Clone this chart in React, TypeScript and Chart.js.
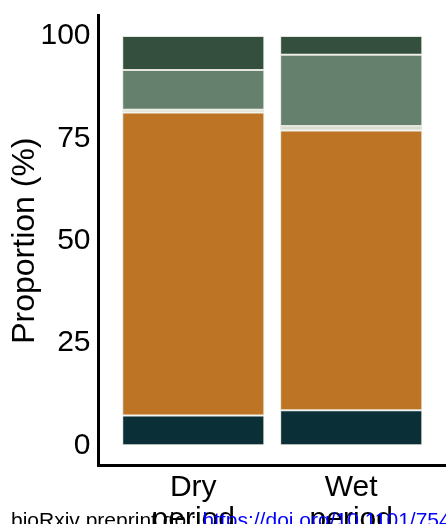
import React, { useEffect, useRef } from "react";
import { Chart, registerables } from "chart.js";

Chart.register(...registerables);

const categories = ["Dry\nperiod", "Wet\nperiod"];
const yTicks = [0, 25, 50, 75, 100];
const seriesNames = ["Group A", "Group B", "Group C", "Group D", "Group E"];
const seriesA = [7.3, 8.6];
const seriesB = [74.0, 68.3];
const seriesC = [0.7, 1.1];
const seriesD = [9.7, 17.4];
const seriesE = [8.3, 4.6];
const seriesColors = ["#0b2f37", "#bd7525", "#d9ddd0", "#66806e", "#344f3e"];
const footerBlack = "bioRxiv preprint doi: ";
const footerBlue = "https://doi.org/10.1101/754317; this version posted";

const FONT = "'Liberation Sans', Arial, sans-serif";

const footerPlugin = {
  id: "footer",
  afterDraw(chart: any) {
    const ctx = chart.ctx;
    ctx.save();
    ctx.font = `21px ${FONT}`;
    ctx.textBaseline = "alphabetic";
    ctx.textAlign = "left";
    ctx.fillStyle = "#000000";
    ctx.fillText(footerBlack, 11, 527);
    const w = ctx.measureText(footerBlack).width;
    ctx.fillStyle = "#0000ff";
    ctx.fillText(footerBlue, 11 + w, 527);
    ctx.restore();
  },
};

export default function App() {
  const ref = useRef<HTMLCanvasElement | null>(null);
  useEffect(() => {
    if (!ref.current) return;
    const all = [seriesA, seriesB, seriesC, seriesD, seriesE];
    const datasets = all.map((vals, i) => ({
      label: seriesNames[i],
      data: vals.map((v, j) => ({ x: j + 1, y: v })),
      backgroundColor: seriesColors[i],
      borderColor: "#e4e6dc",
      borderWidth: 1,
      borderSkipped: false as any,
      categoryPercentage: 0.9,
      barPercentage: 1,
    }));
    const chart = new Chart(ref.current, {
      type: "bar",
      data: { datasets },
      plugins: [footerPlugin],
      options: {
        animation: false,
        responsive: false,
        maintainAspectRatio: false,
        layout: { padding: { left: 0, right: 0, top: 15.5, bottom: 0 } },
        plugins: { legend: { display: false }, tooltip: { enabled: false } },
        scales: {
          x: {
            type: "linear",
            stacked: true,
            offset: false,
            min: 0.4,
            max: 2.6,
            afterBuildTicks: (s: any) => {
              s.ticks = categories.map((_, i) => ({ value: i + 1 }));
            },
            afterFit: (s: any) => {
              s.paddingLeft = 0;
              s.paddingRight = 0;
            },
            ticks: {
              autoSkip: false,
              maxRotation: 0,
              padding: 6,
              color: "#000000",
              font: { family: FONT, size: 30, lineHeight: 1.07 },
              callback: (v: any) => {
                const c = categories[Math.round(Number(v)) - 1];
                return c ? c.split("\n") : "";
              },
            },
            grid: { display: false, drawTicks: false, offset: false },
            border: { display: true, color: "#000000", width: 3 },
          },
          y: {
            type: "linear",
            stacked: true,
            min: -5,
            max: 105,
            afterBuildTicks: (s: any) => {
              s.ticks = yTicks.map((v) => ({ value: v }));
            },
            afterFit: (s: any) => {
              s.width = 98.5;
              s.paddingTop = 0;
              s.paddingBottom = 0;
            },
            ticks: {
              padding: 8,
              color: "#000000",
              font: { family: FONT, size: 30 },
            },
            title: {
              display: true,
              text: "Proportion (%)",
              color: "#000000",
              font: { family: FONT, size: 32 },
              padding: { top: 6, bottom: 0 },
            },
            grid: { display: false, drawTicks: false },
            border: { display: true, color: "#000000", width: 3 },
          },
        },
      },
    });
    return () => chart.destroy();
  }, []);
  return (
    <div
      style={{
        position: "fixed",
        left: 0,
        top: 0,
        width: 446,
        height: 524,
        overflow: "hidden",
        background: "#ffffff",
      }}
    >
      <canvas ref={ref} width={446} height={542} style={{ display: "block", width: 446, height: 542 }} />
    </div>
  );
}
